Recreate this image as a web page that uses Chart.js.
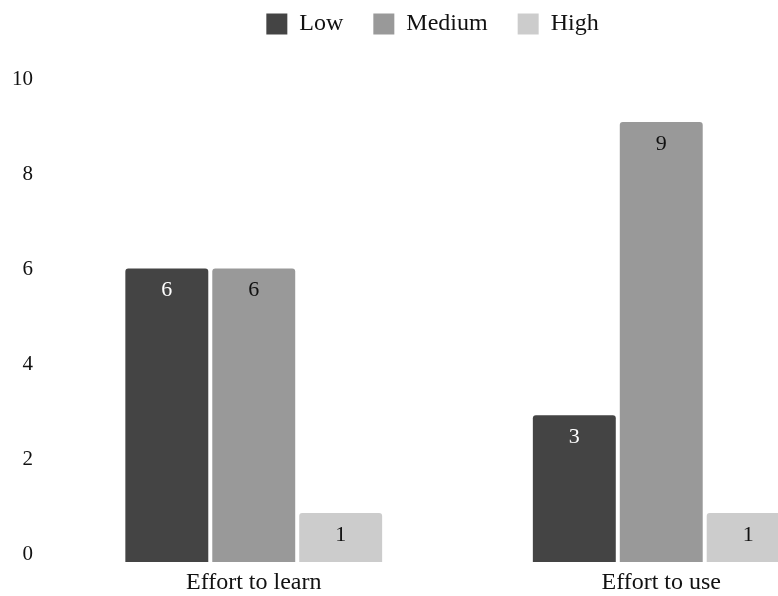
<!DOCTYPE html>
<html>
<head>
<meta charset="utf-8">
<script src="https://cdn.jsdelivr.net/npm/chart.js@4/dist/chart.umd.min.js"></script>
<style>
  html, body { margin: 0; padding: 0; background: #fff; overflow: hidden; }
  #wrap { width: 865px; height: 596px; }
</style>
</head>
<body>
<div id="wrap"><canvas id="c" width="865" height="596"></canvas></div>
<script>
// Survey answers: how much effort people reported
const categories = ['Effort to learn', 'Effort to use'];
const lowCounts = [6, 3];
const mediumCounts = [6, 9];
const highCounts = [1, 1];
const yTicks = [0, 2, 4, 6, 8, 10];

const FONT = 'Liberation Serif, Times New Roman, serif';

// Writes each bar's count just inside its top edge
const barValueLabels = {
  id: 'barValueLabels',
  afterDatasetsDraw(chart) {
    const ctx = chart.ctx;
    ctx.save();
    ctx.font = '22px ' + FONT;
    ctx.textAlign = 'center';
    ctx.textBaseline = 'middle';
    chart.data.datasets.forEach((ds, di) => {
      const meta = chart.getDatasetMeta(di);
      meta.data.forEach((bar, i) => {
        ctx.fillStyle = ds.labelColor;
        ctx.fillText(String(ds.data[i]), bar.x, bar.y + 22);
      });
    });
    ctx.restore();
  }
};

// Gives the legend a fixed block height so the plot starts lower
const legendBlock = {
  id: 'legendBlock',
  beforeInit(chart) {
    const origFit = chart.legend.fit;
    chart.legend.fit = function fit() {
      origFit.bind(chart.legend)();
      this.height = 97;
    };
  }
};

new Chart(document.getElementById('c'), {
  type: 'bar',
  data: {
    labels: categories,
    datasets: [
      { label: 'Low', data: lowCounts, backgroundColor: '#444444', labelColor: '#ffffff' },
      { label: 'Medium', data: mediumCounts, backgroundColor: '#999999', labelColor: '#111111' },
      { label: 'High', data: highCounts, backgroundColor: '#cccccc', labelColor: '#111111' }
    ].map(d => Object.assign(d, {
      yAxisID: 'yb',
      borderWidth: 0,
      borderRadius: { topLeft: 3, topRight: 3 },
      borderSkipped: 'bottom',
      categoryPercentage: 0.64,
      barPercentage: 0.954,
      clip: false
    }))
  },
  options: {
    responsive: false,
    animation: false,
    devicePixelRatio: 1,
    layout: { padding: { top: -18, left: 0, right: 0, bottom: -16 } },
    plugins: {
      legend: {
        position: 'top',
        labels: {
          font: { family: FONT, size: 24 },
          color: '#111',
          boxWidth: 21,
          boxHeight: 21,
          padding: 30
        }
      },
      tooltip: { enabled: false }
    },
    scales: {
      x: {
        grid: { display: false, drawTicks: false },
        border: { display: false },
        ticks: { font: { family: FONT, size: 24 }, color: '#111', padding: 14.6 }
      },
      y: {
        min: 0,
        max: 10,
        afterBuildTicks(scale) { scale.ticks = yTicks.map(v => ({ value: v })); },
        afterFit(scale) { scale.width = 50; },
        grid: { display: false, drawTicks: false },
        border: { display: false },
        ticks: { font: { family: FONT, size: 21 }, color: '#111', padding: 17 }
      },
      // bar value scale: its baseline sits a little below the lowest tick label
      yb: {
        display: false,
        min: 0.1636,
        max: 9.877
      }
    }
  },
  plugins: [barValueLabels, legendBlock]
});
</script>
</body>
</html>
